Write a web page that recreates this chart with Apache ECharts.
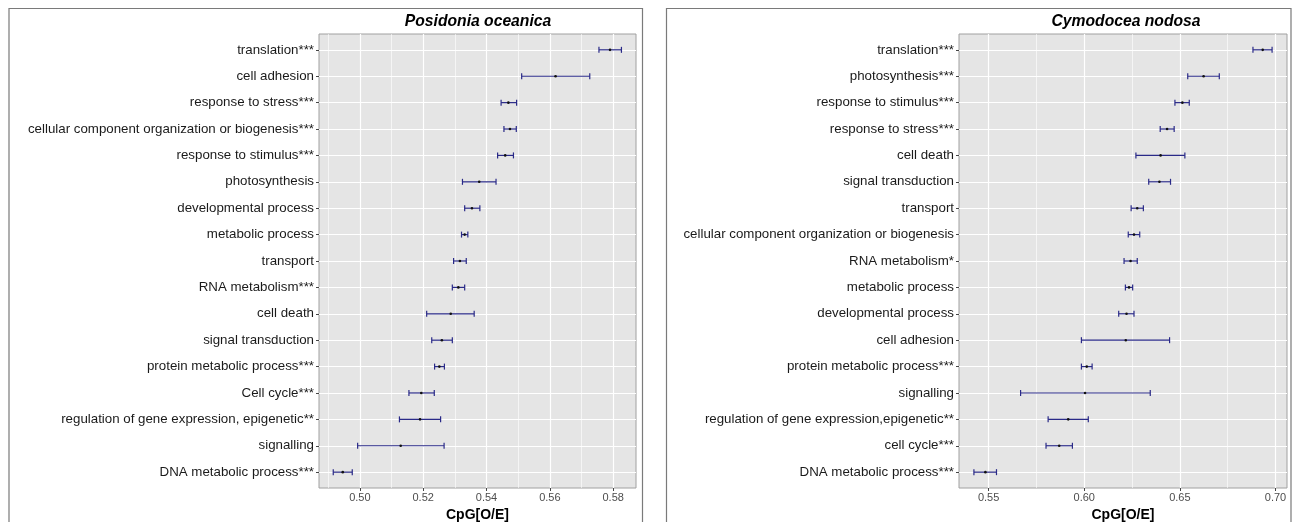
<!DOCTYPE html>
<html><head><meta charset="utf-8">
<script src="https://cdn.jsdelivr.net/npm/echarts@6/dist/echarts.min.js"></script>
<style>html,body{margin:0;padding:0;background:#fff}#c{width:1298px;height:522px}</style>
</head><body><div id="c"></div>
<script>
const leftTitle = 'Posidonia oceanica';
const rightTitle = 'Cymodocea nodosa';
const xName = 'CpG[O/E]';

const leftCategories = [
  'translation***', 'cell adhesion', 'response to stress***',
  'cellular component organization or biogenesis***', 'response to stimulus***',
  'photosynthesis', 'developmental process', 'metabolic process', 'transport',
  'RNA metabolism***', 'cell death', 'signal transduction', 'protein metabolic process***',
  'Cell cycle***', 'regulation of gene expression, epigenetic**', 'signalling',
  'DNA metabolic process***'
];
const leftLow  = [0.5755, 0.5511, 0.5446, 0.5455, 0.5435, 0.5324, 0.5331, 0.5321, 0.5296, 0.5292, 0.5211, 0.5227, 0.5236, 0.5155, 0.5125, 0.4993, 0.4916];
const leftMean = [0.5790, 0.5618, 0.5469, 0.5474, 0.5459, 0.5377, 0.5354, 0.5331, 0.5316, 0.5311, 0.5287, 0.5259, 0.5251, 0.5194, 0.5190, 0.5129, 0.4946];
const leftHigh = [0.5826, 0.5726, 0.5495, 0.5494, 0.5485, 0.5430, 0.5379, 0.5341, 0.5336, 0.5331, 0.5361, 0.5292, 0.5267, 0.5235, 0.5255, 0.5266, 0.4976];
const leftTicks = [0.50, 0.52, 0.54, 0.56, 0.58];

const rightCategories = [
  'translation***', 'photosynthesis***', 'response to stimulus***', 'response to stress***',
  'cell death', 'signal transduction', 'transport',
  'cellular component organization or biogenesis', 'RNA metabolism*', 'metabolic process',
  'developmental process', 'cell adhesion', 'protein metabolic process***', 'signalling',
  'regulation of gene expression,epigenetic**', 'cell cycle***', 'DNA metabolic process***'
];
const rightLow  = [0.6882, 0.6541, 0.6474, 0.6397, 0.6270, 0.6337, 0.6245, 0.6230, 0.6208, 0.6215, 0.6180, 0.5985, 0.5985, 0.5667, 0.5811, 0.5800, 0.5423];
const rightMean = [0.6933, 0.6624, 0.6513, 0.6433, 0.6399, 0.6393, 0.6277, 0.6260, 0.6242, 0.6234, 0.6221, 0.6217, 0.6013, 0.6004, 0.5916, 0.5869, 0.5483];
const rightHigh = [0.6982, 0.6706, 0.6549, 0.6470, 0.6526, 0.6451, 0.6309, 0.6290, 0.6277, 0.6253, 0.6260, 0.6446, 0.6041, 0.6345, 0.6021, 0.5938, 0.5541];
const rightTicks = [0.55, 0.60, 0.65, 0.70];

const FONT = '"Liberation Sans", Arial, Helvetica, sans-serif';
const BAR = '#2a2a88';

function renderErr(params, api) {
  const y = api.value(0);
  const p1 = api.coord([api.value(1), y]);
  const p2 = api.coord([api.value(3), y]);
  const pm = api.coord([api.value(2), y]);
  const h = 3;
  const st = { stroke: BAR, lineWidth: 1.2 };
  return {
    type: 'group',
    children: [
      { type: 'line', shape: { x1: p1[0], y1: p1[1], x2: p2[0], y2: p2[1] }, style: st },
      { type: 'line', shape: { x1: p1[0], y1: p1[1] - h, x2: p1[0], y2: p1[1] + h }, style: st },
      { type: 'line', shape: { x1: p2[0], y1: p2[1] - h, x2: p2[0], y2: p2[1] + h }, style: st },
      { type: 'circle', shape: { cx: pm[0], cy: pm[1], r: 1.3 }, style: { fill: '#111' } }
    ]
  };
}

function xAxisCfg(idx, min, max, ticks, step) {
  return {
    type: 'value', gridIndex: idx, min: min, max: max, position: 'bottom',
    splitNumber: 5, minInterval: step, maxInterval: step,
    name: xName, nameLocation: 'middle', nameGap: 17,
    nameTextStyle: { fontFamily: FONT, fontSize: 14, fontWeight: 'bold', color: '#000' },
    axisLine: { show: false, onZero: false },
    axisTick: { show: true, length: 3, customValues: ticks, lineStyle: { color: '#444', width: 1 } },
    axisLabel: { customValues: ticks, margin: 4, fontFamily: FONT, fontSize: 11, color: '#4d4d4d',
      formatter: v => v.toFixed(2) },
    splitLine: { show: true, lineStyle: { color: '#ffffff', width: 1.2 } },
    minorTick: { show: false, splitNumber: 2 },
    minorSplitLine: { show: true, lineStyle: { color: '#ffffff', width: 0.6 } }
  };
}
function yAxisCfg(idx, cats) {
  const idxs = cats.map((c, i) => i);
  return {
    type: 'value', gridIndex: idx, min: -0.6, max: cats.length - 1 + 0.6, inverse: true, position: 'left',
    minInterval: 1, maxInterval: 1,
    axisLine: { show: false, onZero: false },
    axisTick: { show: true, length: 3, customValues: idxs, lineStyle: { color: '#444', width: 1 } },
    axisLabel: { customValues: idxs, margin: 5, fontFamily: FONT, fontSize: 13.3, color: '#1a1a1a',
      formatter: v => cats[Math.round(v)] },
    splitLine: { show: true, lineStyle: { color: '#ffffff', width: 1.2 } }
  };
}
function seriesData(low, mean, high) {
  return low.map((l, i) => [i, l, mean[i], high[i]]);
}

const chart = echarts.init(document.getElementById('c'), null, { renderer: 'canvas' });
chart.setOption({
  animation: false,
  backgroundColor: '#ffffff',
  title: [
    { text: leftTitle, left: 478, top: 14, textAlign: 'center', padding: 0,
      textStyle: { fontFamily: FONT, fontSize: 15.7, fontStyle: 'italic', fontWeight: 'bold', color: '#000' } },
    { text: rightTitle, left: 1126, top: 14, textAlign: 'center', padding: 0,
      textStyle: { fontFamily: FONT, fontSize: 15.7, fontStyle: 'italic', fontWeight: 'bold', color: '#000' } }
  ],
  graphic: [
    { type: 'rect', shape: { x: 9, y: 8.5, width: 633.5, height: 600 }, style: { fill: 'none', stroke: '#7a7a7a', lineWidth: 1.2 }, z: -10 },
    { type: 'rect', shape: { x: 666.5, y: 8.5, width: 624.5, height: 600 }, style: { fill: 'none', stroke: '#7a7a7a', lineWidth: 1.2 }, z: -10 }
  ],
  grid: [
    { left: 319, top: 34, width: 317, height: 454, containLabel: false, outerBoundsMode: 'none',
      show: true, backgroundColor: '#e5e5e5', borderColor: '#a0a0a0', borderWidth: 1 },
    { left: 959, top: 34, width: 328, height: 454, containLabel: false, outerBoundsMode: 'none',
      show: true, backgroundColor: '#e5e5e5', borderColor: '#a0a0a0', borderWidth: 1 }
  ],
  xAxis: [
    xAxisCfg(0, 0.4871, 0.5872, leftTicks, 0.02),
    xAxisCfg(1, 0.5345, 0.7060, rightTicks, 0.05)
  ],
  yAxis: [
    yAxisCfg(0, leftCategories),
    yAxisCfg(1, rightCategories)
  ],
  series: [
    { type: 'custom', xAxisIndex: 0, yAxisIndex: 0, renderItem: renderErr,
      encode: { x: [1, 2, 3], y: 0 }, data: seriesData(leftLow, leftMean, leftHigh) },
    { type: 'custom', xAxisIndex: 1, yAxisIndex: 1, renderItem: renderErr,
      encode: { x: [1, 2, 3], y: 0 }, data: seriesData(rightLow, rightMean, rightHigh) }
  ]
});
</script>
</body></html>
